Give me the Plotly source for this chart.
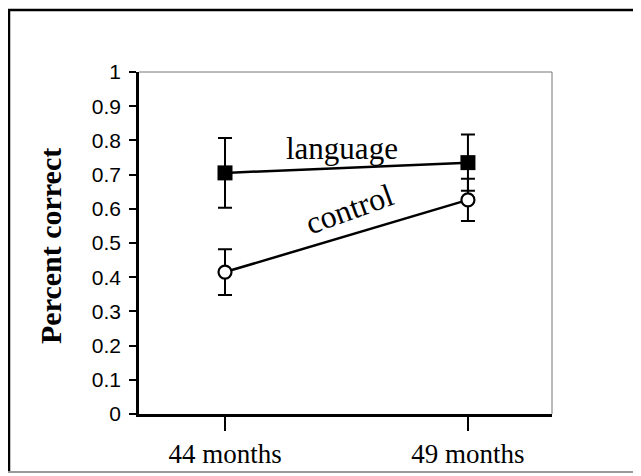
import plotly.graph_objects as go

categories = ["44 months", "49 months"]
language = [0.705, 0.735]
language_err = [0.102, 0.082]
control = [0.415, 0.626]
control_err = [0.067, 0.062]
y_ticks = [0, 0.1, 0.2, 0.3, 0.4, 0.5, 0.6, 0.7, 0.8, 0.9, 1]
y_tick_text = ["0", "0.1", "0.2", "0.3", "0.4", "0.5", "0.6", "0.7", "0.8", "0.9", "1"]

SERIF = "Liberation Serif"
SANS = "Liberation Sans"

# page offset (browser body margin) compensation
OFF = 7
L, T = 138 - OFF, 71 - OFF
PW, PH = 413, 342

fig = go.Figure()
fig.add_trace(go.Scatter(
    x=categories, y=language, mode="lines+markers", name="language",
    line=dict(color="black", width=2.5),
    marker=dict(symbol="square", size=15, color="black"),
    error_y=dict(type="data", array=language_err, color="black", thickness=2, width=7),
))
fig.add_trace(go.Scatter(
    x=categories, y=control, mode="lines+markers", name="control",
    line=dict(color="black", width=2.5),
    marker=dict(symbol="circle", size=13, color="white", line=dict(color="black", width=2.2)),
    error_y=dict(type="data", array=control_err, color="black", thickness=2, width=7),
))

def px(xpix):
    return (xpix - 138) / PW

def py(ypix):
    return (413 - ypix) / PH

fig.update_layout(
    width=641, height=476,
    margin=dict(l=L, r=641 - L - PW, t=T, b=476 - T - PH),
    paper_bgcolor="white", plot_bgcolor="white",
    showlegend=False,
    xaxis=dict(
        type="category", range=[-0.354, 1.346],
        showgrid=False, zeroline=False,
        showline=True, linecolor="black", linewidth=2.5,
        ticks="outside", ticklen=14, tickwidth=2, tickcolor="black",
        tickfont=dict(family=SERIF, size=27, color="black"),
    ),
    yaxis=dict(
        range=[0, 1], tickvals=y_ticks, ticktext=y_tick_text,
        showgrid=False, zeroline=False,
        showline=True, linecolor="black", linewidth=2.5,
        ticks="outside", ticklen=7, tickwidth=2, tickcolor="black",
        ticklabelstandoff=4,
        tickfont=dict(family=SANS, size=21, color="black"),
    ),
    annotations=[
        dict(text="<b>Percent correct</b>", xref="paper", yref="paper", x=px(49), y=py(245),
             textangle=-90, showarrow=False, xanchor="center", yanchor="middle",
             font=dict(family=SERIF, size=30, color="black")),
        dict(text="language", xref="paper", yref="paper", x=px(341), y=py(147),
             showarrow=False, xanchor="center", yanchor="middle",
             font=dict(family=SERIF, size=31, color="black")),
        dict(text="control", xref="paper", yref="paper", x=px(348), y=py(208),
             showarrow=False, xanchor="center", yanchor="middle", textangle=-20,
             font=dict(family=SERIF, size=32, color="black")),
    ],
    shapes=[
        # thin top and right border of the plot area
        dict(type="line", xref="paper", yref="paper", x0=0, x1=1, y0=1, y1=1,
             line=dict(color="#777777", width=1)),
        dict(type="line", xref="paper", yref="paper", x0=1, x1=1, y0=0, y1=1,
             line=dict(color="#777777", width=1)),
        # outer frame
        dict(type="line", xref="paper", yref="paper", x0=px(7), x1=px(660),
             y0=py(9), y1=py(9), line=dict(color="black", width=2.5)),
        dict(type="line", xref="paper", yref="paper", x0=px(8), x1=px(8),
             y0=py(8), y1=py(471), line=dict(color="black", width=2.5)),
        dict(type="line", xref="paper", yref="paper", x0=px(7), x1=px(660),
             y0=py(471), y1=py(471), line=dict(color="#999999", width=2)),
    ],
)

fig.write_html("out.html")
